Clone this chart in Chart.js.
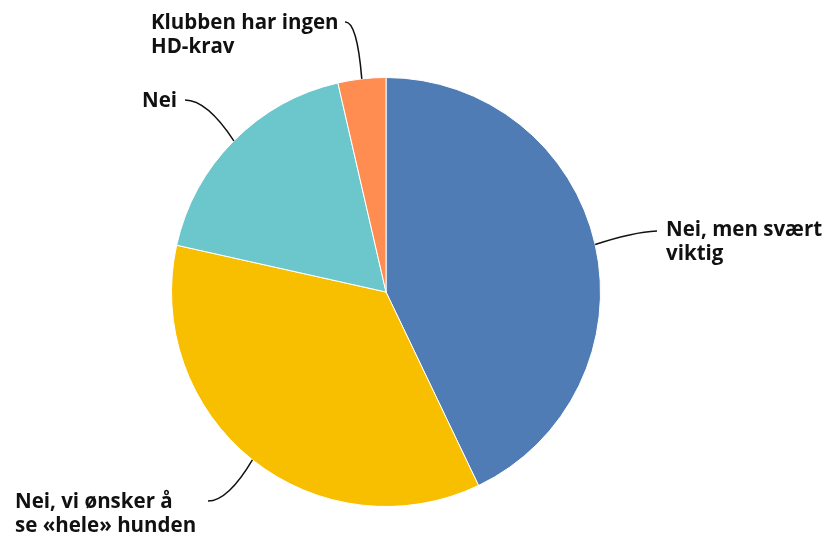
<!DOCTYPE html>
<html lang="no">
<head>
    <meta charset="UTF-8">
    <title>HD-krav</title>
    <script src="https://cdn.jsdelivr.net/npm/chart.js"></script>
</head>
<body style="margin:0;background:#fff;">
    <canvas id="pieChart" width="827" height="540" style="display:block;"></canvas>
    <script>
        // Answers, clockwise from the top
        const categories = [
            ['Nei, men svært', 'viktig'],
            ['Nei, vi ønsker å', 'se «hele» hunden'],
            ['Nei'],
            ['Klubben har ingen', 'HD-krav']
        ];
        const shares = [42.9, 35.6, 17.9, 3.6];
        const colors = ['#4f7cb5', '#f8bf00', '#6bc7cb', '#ff8c50'];

        // Where each label and its leader line sit
        const labelSpots = [
            { end: [657, 231], ctrl: [633, 232], tx: 666, ty: 236, align: 'left' },
            { end: [208, 501], ctrl: [228, 501], tx: 15, ty: 508, align: 'left' },
            { end: [185, 100], ctrl: [207, 100], tx: 142, ty: 107, align: 'left' },
            { end: [345, 22], ctrl: [357, 21], tx: 151, ty: 29, align: 'left' }
        ];
        const lineGap = 24;

        const leaderLabels = {
            id: 'leaderLabels',
            afterDatasetsDraw(chart) {
                const ctx = chart.ctx;
                const arcs = chart.getDatasetMeta(0).data;
                ctx.save();
                arcs.forEach((arc, i) => {
                    const spot = labelSpots[i];
                    const mid = (arc.startAngle + arc.endAngle) / 2;
                    const sx = arc.x + Math.cos(mid) * arc.outerRadius;
                    const sy = arc.y + Math.sin(mid) * arc.outerRadius;
                    ctx.beginPath();
                    ctx.moveTo(sx, sy);
                    ctx.quadraticCurveTo(spot.ctrl[0], spot.ctrl[1], spot.end[0], spot.end[1]);
                    ctx.strokeStyle = '#111';
                    ctx.lineWidth = 1.5;
                    ctx.stroke();

                    ctx.fillStyle = '#111';
                    ctx.font = 'bold 20.5px "Open Sans", "Noto Sans", sans-serif';
                    ctx.textAlign = spot.align;
                    ctx.textBaseline = 'alphabetic';
                    categories[i].forEach((line, k) => {
                        ctx.fillText(line, spot.tx, spot.ty + k * lineGap);
                    });
                });
                ctx.restore();
            }
        };

        new Chart(document.getElementById('pieChart'), {
            type: 'pie',
            data: {
                labels: categories.map(c => c.join(' ')),
                datasets: [{
                    data: shares,
                    backgroundColor: colors,
                    borderColor: '#fff',
                    borderWidth: 1
                }]
            },
            options: {
                responsive: false,
                animation: false,
                layout: { padding: { top: 77, bottom: 33, left: 171, right: 226 } },
                plugins: {
                    legend: { display: false },
                    tooltip: { enabled: false }
                }
            },
            plugins: [leaderLabels]
        });
    </script>
</body>
</html>
